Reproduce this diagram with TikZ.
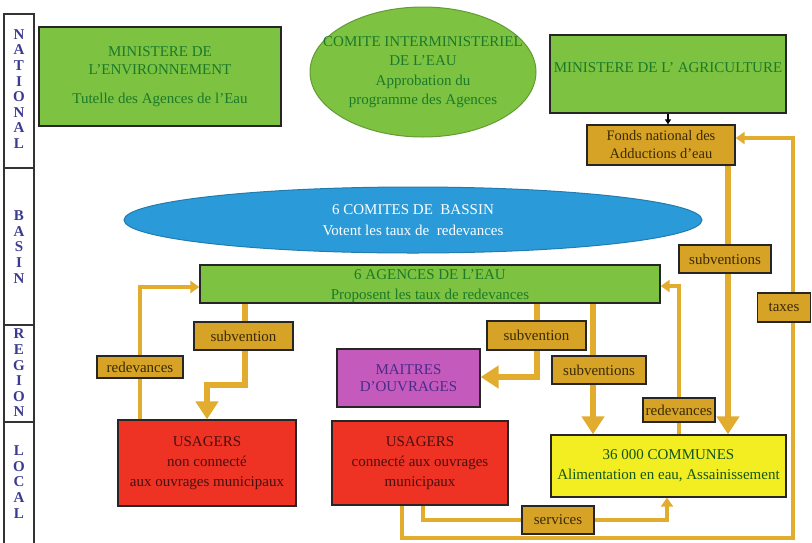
\documentclass[tikz,border=0pt]{standalone}
\usepackage{fontspec}
\setmainfont{Liberation Serif}
\usetikzlibrary{arrows.meta,shapes.geometric}
\definecolor{vert}{HTML}{7DC241}
\definecolor{vertfonce}{HTML}{1B7A2A}
\definecolor{bleu}{HTML}{2A9BD8}
\definecolor{ligne}{HTML}{E2AC2E}
\definecolor{etiq}{HTML}{D6A326}
\definecolor{rouge}{HTML}{EE3224}
\definecolor{mauve}{HTML}{C45BBC}
\definecolor{mauvetxt}{HTML}{4B2A8A}
\definecolor{jaune}{HTML}{F2EE22}
\definecolor{brun}{HTML}{3A2A05}
\definecolor{lettre}{HTML}{3B3B8F}
\definecolor{rougetxt}{HTML}{4A1010}
\tikzset{
  mainbox/.style={draw=black!85, line width=1.3pt, inner sep=0pt, align=center,
    font=\fontsize{15}{18}\selectfont},
  greenbox/.style={mainbox, fill=vert, text=vertfonce},
  redbox/.style={mainbox, fill=rouge, text=rougetxt, font=\fontsize{15}{20}\selectfont},
  tag/.style={draw=black!85, line width=1.2pt, fill=etiq, text=brun, inner sep=0pt,
    font=\fontsize{15}{16}\selectfont},
  sidetxt/.style={text=lettre, align=center, font=\fontsize{15}{15.6}\selectfont\bfseries},
  thinflow/.style={draw=ligne, line width=3.2pt, -{Triangle[length=9pt,width=12pt]}},
  thickflow/.style={draw=ligne, line width=5.2pt, -{Triangle[length=18pt,width=22pt]}},
}
\begin{document}
\begin{tikzpicture}[x=1pt,y=-1pt]
\useasboundingbox (0,0) rectangle (812,542);
% side bar
\draw[black!80, line width=1.6pt] (4,548) -- (4,14) -- (34,14) -- (34,548);
\draw[black!80, line width=1.6pt] (4,168) -- (34,168);
\draw[black!80, line width=1.6pt] (4,325) -- (34,325);
\draw[black!80, line width=1.6pt] (4,422) -- (34,422);
\node[sidetxt] (national) at (19,89) {N\\A\\T\\I\\O\\N\\A\\L};
\node[sidetxt] (basin) at (19,247) {B\\A\\S\\I\\N};
\node[sidetxt] (region) at (19,373) {R\\E\\G\\I\\O\\N};
\node[sidetxt] (local) at (19,482) {L\\O\\C\\A\\L};

% main nodes
\node[greenbox, minimum width=242pt, minimum height=99pt] (env) at (160,76.5)
  {MINISTERE DE\\L'ENVIRONNEMENT\\[11pt]Tutelle des Agences de l'Eau};
\node[draw=vert!80!black, line width=1pt, fill=vert, ellipse, minimum width=226pt, minimum height=130pt, inner sep=0pt] (cie) at (423,72) {};
\node[text=vertfonce, align=center, font=\fontsize{15}{19.3}\selectfont] (cietxt) at (cie.center)
  {COMITE INTERMINISTERIEL\\DE L'EAU\\Approbation du\\programme des Agences};
\node[greenbox, minimum width=236pt, minimum height=78pt, font=\fontsize{15}{16}\selectfont] (agri) at (668,74)
  {\raisebox{12pt}{MINISTERE DE L' AGRICULTURE}};
\node[mainbox, fill=etiq, text=brun, minimum width=148pt, minimum height=40pt, font=\fontsize{14.5}{18}\selectfont] (fonds) at (661,145)
  {Fonds national des\\Adductions d'eau};
\node[draw=bleu!80!black, line width=1pt, fill=bleu, ellipse, minimum width=578pt, minimum height=66pt, inner sep=0pt,
  text=white, align=center, font=\fontsize{15}{21}\selectfont] (bassin) at (413,220)
  {6 COMITES DE\ \ BASSIN\\Votent les taux de\ \ redevances};
\node[greenbox, minimum width=460pt, minimum height=38pt] (agences) at (430,284) {};
\node[text=vertfonce, align=center, font=\fontsize{15}{20}\selectfont, yshift=-2.5pt] (agtxt) at (agences.center)
  {6 AGENCES DE L'EAU\\Proposent les taux de redevances};
\node[mainbox, fill=mauve, text=mauvetxt, minimum width=143pt, minimum height=58pt, font=\fontsize{15}{17}\selectfont] (maitres) at (408.5,378)
  {MAITRES\\D'OUVRAGES};
\node[redbox, minimum width=178pt, minimum height=86pt] (us1) at (207,463)
  {USAGERS\\non connecté\\aux ouvrages municipaux};
\node[redbox, minimum width=176pt, minimum height=84pt] (us2) at (420,463)
  {USAGERS\\connecté aux ouvrages\\municipaux};
\node[mainbox, fill=jaune, text=vertfonce!70!black, minimum width=235pt, minimum height=62pt, font=\fontsize{15}{20}\selectfont] (communes) at (668.5,466)
  {36 000 COMMUNES\\Alimentation en eau, Assainissement};

% coordinates for corners
\coordinate (t1) at (402,538);
\coordinate (t2) at (793,538);
\coordinate (t3) at (793,138);
\coordinate (s1) at (245,385);
\coordinate (s2) at (207,385);
\coordinate (r1) at (140,287);
\coordinate (m1) at (537,377);
\coordinate (c1) at (679,286);
\coordinate (v1) at (423,520);
\coordinate (v2) at (667,520);
\coordinate (xa) at (728,0);
\coordinate (xb) at (593,0);

% connectors
\draw[black, line width=1.2pt, -{Triangle[length=5pt,width=6pt]}] (agri.south) -- (agri.south |- fonds.north);
\draw[thinflow] (us2.south -| t1) -- (t1) -- (t2) -- (t3) -- (fonds.east |- t3);
\draw[thickflow] (fonds.south -| xa) -- (communes.north -| xa);
\draw[thickflow] (agences.south -| s1) -- (s1) -- (s2) -- (us1.north -| s2);
\draw[thinflow] (us1.north -| r1) -- (r1) -- (agences.west |- r1);
\draw[thickflow] (agences.south -| m1) -- (m1) -- (maitres.east |- m1);
\draw[thickflow] (agences.south -| xb) -- (communes.north -| xb);
\draw[thinflow] (communes.north -| c1) -- (c1) -- (agences.east |- c1);
\draw[thinflow] (us2.south -| v1) -- (v1) -- (v2) -- (communes.south -| v2);

% labels
\node[tag, minimum width=99pt, minimum height=28pt] (sub1) at (243.5,336) {subvention};
\node[tag, minimum width=86pt, minimum height=22pt] (red1) at (140,367) {redevances};
\node[tag, minimum width=99pt, minimum height=29pt] (sub2) at (536.5,335.5) {subvention};
\node[tag, minimum width=94pt, minimum height=28pt] (sub3) at (599,370) {subventions};
\node[tag, minimum width=92pt, minimum height=28pt] (sub4) at (725,259) {subventions};
\node[tag, minimum width=53pt, minimum height=29pt] (taxes) at (784,307.5) {taxes};
\node[tag, minimum width=72pt, minimum height=24pt, inner xsep=1pt] (red2) at (679,410) {redevances};
\node[tag, minimum width=72pt, minimum height=28pt] (serv) at (558,520) {services};
\end{tikzpicture}
\end{document}
